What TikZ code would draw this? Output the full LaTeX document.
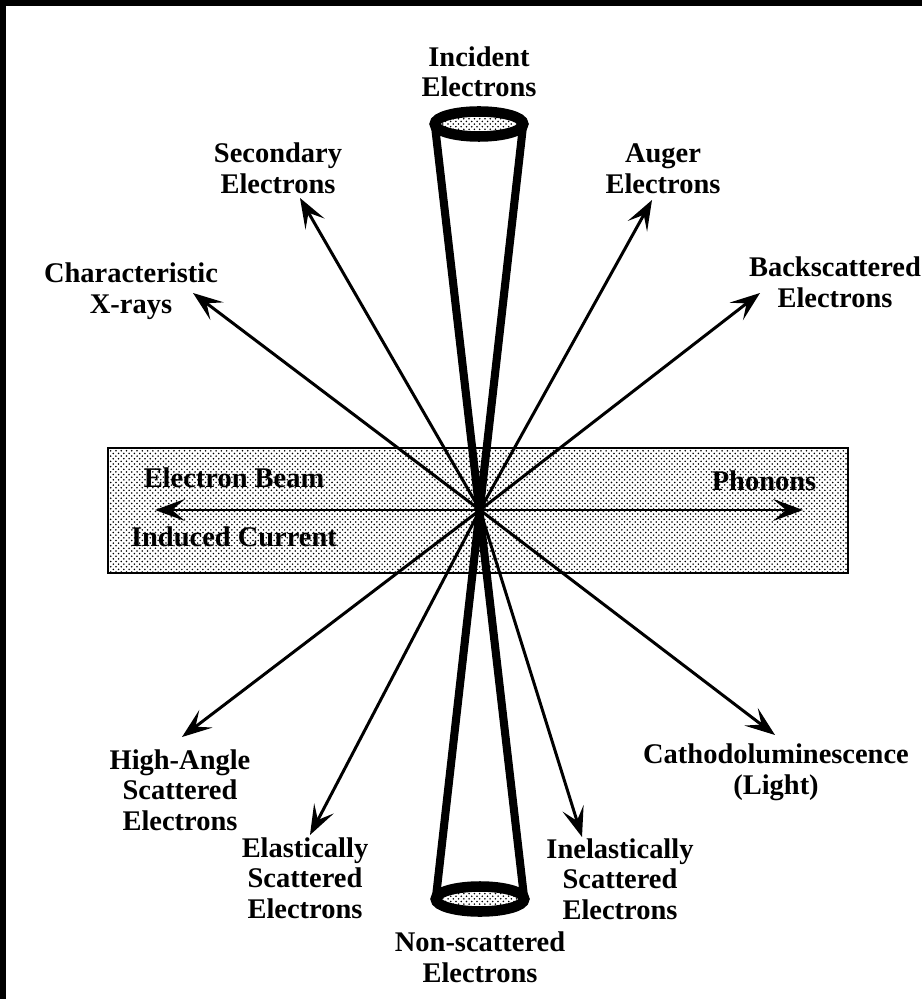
\documentclass[tikz,border=0pt]{standalone}
\usepackage{fontspec}
\setmainfont{Liberation Serif}
\usetikzlibrary{positioning,arrows.meta,shapes.geometric,patterns}

\begin{document}
\begin{tikzpicture}[
    x=0.02cm, y=-0.02cm,
    lbl/.style={align=center, inner sep=0pt, font=\bfseries\fontsize{16.2}{17.4}\selectfont},
    beamend/.style={ellipse, draw, line width=6pt, outer sep=0pt, inner sep=0pt,
                minimum width=1.77cm, minimum height=0.5cm,
                pattern=crosshatch dots, pattern color=black},
    beam/.style={line width=4.6pt},
    ray/.style={-{Stealth[length=6mm, width=4.4mm, inset=2.6mm]}, line width=1.7pt},
    both/.style={{Stealth[length=6mm, width=4.4mm, inset=2.6mm]}-{Stealth[length=6mm, width=4.4mm, inset=2.6mm]},
                 line width=1.7pt},
    slab/.style={draw, line width=1pt, pattern=crosshatch dots, pattern color=black},
  ]
  \useasboundingbox (0,0) rectangle (922,999);
  \fill[black] (0,0) rectangle (922,999);
  \fill[white] (6,6) rectangle (922,999);

  \draw[slab] (108,448) rectangle (848,573);
  \node[lbl] (ebeam) at (234,478) {Electron Beam};
  \node[lbl] (icurr) at (234,537) {Induced Current};
  \node[lbl] (phon)  at (764,481) {Phonons};

  \coordinate (ctr)   at (480,510);
  \coordinate (tsec)  at (300,198);
  \coordinate (txray) at (193,293);
  \coordinate (taug)  at (652,200);
  \coordinate (tback) at (760,293);
  \coordinate (thia)  at (182,737);
  \coordinate (tela)  at (310,835);
  \coordinate (tinel) at (582,837);
  \coordinate (tcath) at (775,735);
  \coordinate (pleft)  at (155,510);
  \coordinate (pright) at (803,510);

  \node[beamend] (topend) at (479,124) {};
  \node[beamend] (botend) at (480,899) {};
  \draw[beam] (topend.west) -- (botend.east);
  \draw[beam] (topend.east) -- (botend.west);

  \draw[both] (pleft) -- (pright);
  \draw[ray] (ctr) -- (tsec);
  \draw[ray] (ctr) -- (txray);
  \draw[ray] (ctr) -- (taug);
  \draw[ray] (ctr) -- (tback);
  \draw[ray] (ctr) -- (thia);
  \draw[ray] (ctr) -- (tela);
  \draw[ray] (ctr) -- (tinel);
  \draw[ray] (ctr) -- (tcath);

  \node[lbl, above=0.28cm of topend] (inc) {Incident\\Electrons};
  \node[lbl, below=0.4cm of botend]  (non) {Non-scattered\\Electrons};
  \node[lbl] (sec)  at (278,168) {Secondary\\Electrons};
  \node[lbl] (xray) at (131,291) {Characteristic\\X-rays};
  \node[lbl] (aug)  at (663,169) {Auger\\Electrons};
  \node[lbl] (back) at (835,282) {Backscattered\\Electrons};
  \node[lbl] (hia)  at (180,790) {High-Angle\\Scattered\\Electrons};
  \node[lbl] (ela)  at (305,878) {Elastically\\Scattered\\Electrons};
  \node[lbl] (inel) at (620,879) {Inelastically\\Scattered\\Electrons};
  \node[lbl] (cath) at (776,772) {Cathodoluminescence\\(Light)};
\end{tikzpicture}
\end{document}
